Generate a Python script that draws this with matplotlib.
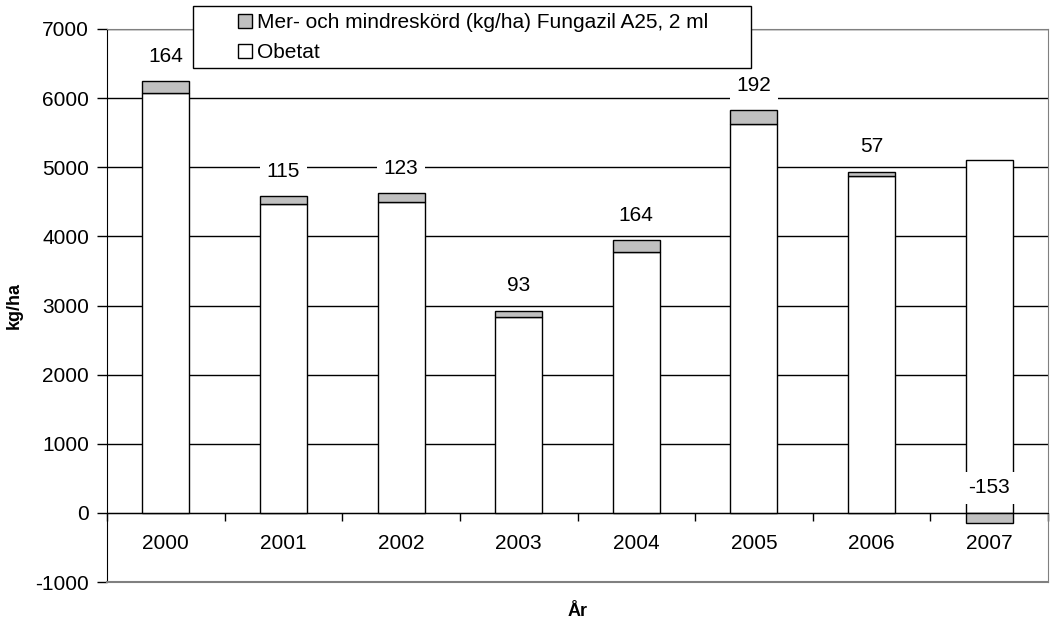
import matplotlib.pyplot as plt
from matplotlib.patches import Patch, Rectangle
import numpy as np

plt.rcParams["font.family"] = ["Liberation Sans", "DejaVu Sans"]
plt.rcParams["axes.unicode_minus"] = False

years = ["2000", "2001", "2002", "2003", "2004", "2005", "2006", "2007"]
obetat = [6080, 4470, 4500, 2830, 3780, 5630, 4880, 5100]
merskord = [164, 115, 123, 93, 164, 192, 57, -153]

GRAY = "#c0c0c0"
BORDER = "#808080"
FS = 15

fig = plt.figure(figsize=(10.5, 6.27), dpi=100)
ax = fig.add_axes([107 / 1050, 1 - 582 / 627, 941 / 1050, 553 / 627])

x = np.arange(len(years))
w = 0.4
obetat = np.array(obetat)
merskord = np.array(merskord)
gain_bottom = np.where(merskord > 0, obetat, 0)

ax.bar(x, obetat, width=w, color="white", edgecolor="black", linewidth=1, zorder=3)
ax.bar(x, merskord, width=w, bottom=gain_bottom, color=GRAY, edgecolor="black",
       linewidth=1, zorder=3)

# value labels above the stack, white box hides gridlines behind
for xi, top, m in zip(x, np.where(merskord > 0, obetat + merskord, 0), merskord):
    ax.text(xi, top + 360, f"{m}", ha="center", va="center", fontsize=FS, zorder=5,
            bbox=dict(facecolor="white", edgecolor="none", pad=5))

ax.set_xlim(-0.5, len(years) - 0.5)
ax.set_ylim(-1000, 7000)
ax.set_yticks(np.arange(-1000, 7001, 1000))
ax.yaxis.grid(True, color="black", linewidth=1, zorder=0)
ax.set_axisbelow(True)

ax.set_xticks(x)
ax.set_xticklabels(years)
ax.set_xticks(np.arange(-0.5, len(years), 1.0), minor=True)
ax.tick_params(axis="x", which="major", length=0, pad=15, labelsize=FS)
ax.tick_params(axis="x", which="minor", length=6, width=1, direction="out")
ax.tick_params(axis="y", length=7, width=1, pad=6, labelsize=FS)

ax.spines["bottom"].set_position(("data", 0))
ax.spines["bottom"].set_zorder(4)
ax.spines["left"].set_color("black")
for s in ("top", "right"):
    ax.spines[s].set_color(BORDER)
ax.axhline(-1000, color=BORDER, linewidth=1.5, clip_on=False, zorder=4)

ax.set_ylabel("kg/ha", fontsize=13, fontweight="bold", labelpad=9)
fig.text(578 / 1050, 1 - 612 / 627, "År", ha="center", va="center",
         fontsize=13, fontweight="bold")

# legend box, drawn over the top of the plot area
fig.patches.append(Rectangle((193 / 1050, 1 - 68 / 627), 558 / 1050, 62 / 627,
                             transform=fig.transFigure, facecolor="white",
                             edgecolor="black", linewidth=1, zorder=10))
handles = [Patch(facecolor=GRAY, edgecolor="black"),
           Patch(facecolor="white", edgecolor="black")]
labels = ["Mer- och mindreskörd (kg/ha) Fungazil A25, 2 ml", "Obetat"]
leg = fig.legend(handles, labels, loc="upper left",
                 bbox_to_anchor=(238 / 1050, 1 - 13 / 627), frameon=False,
                 fontsize=FS, handlelength=0.65, handleheight=0.65,
                 handletextpad=0.25, labelspacing=0.55, borderpad=0,
                 borderaxespad=0)
leg.set_zorder(11)

fig.savefig("out.png", dpi=100)
